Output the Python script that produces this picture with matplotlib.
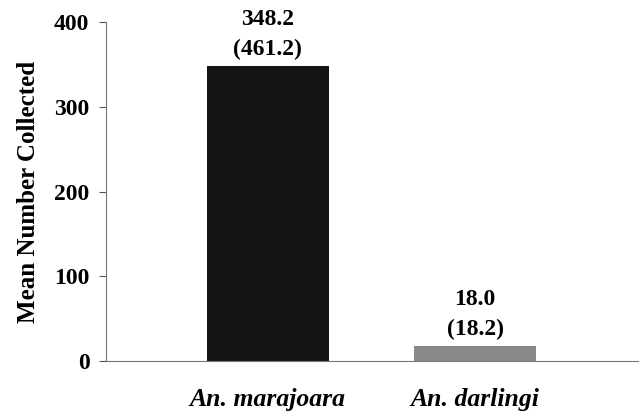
import matplotlib.pyplot as plt
import numpy as np

species = ["An. marajoara", "An. darlingi"]
means = [348.2, 18.0]
sds = [461.2, 18.2]
bar_colors = ["#141414", "#8a8a8a"]
yticks = [0, 100, 200, 300, 400]

plt.rcParams["font.family"] = ["Liberation Serif", "DejaVu Serif"]
plt.rcParams["font.weight"] = "bold"

fig = plt.figure(figsize=(6.39, 4.17), dpi=100)
ax = fig.add_axes([0.166, 0.134, 0.834, 0.813])

x = np.arange(len(species))
ax.bar(x, means, width=0.59, color=bar_colors)

for xi, m, s in zip(x, means, sds):
    ax.annotate(f"{m:.1f}\n({s:.1f})", (xi, m), xytext=(0, 4),
                textcoords="offset points", ha="center", va="bottom",
                fontsize=17, fontweight="bold", linespacing=1.55)

ax.set_xlim(-0.78, 1.79)
ax.set_ylim(0, 400)
ax.set_yticks(yticks)
ax.set_yticklabels([str(t) for t in yticks], fontsize=17, fontweight="bold")
ax.set_xticks(x)
ax.set_xticklabels(species, fontsize=18.5, fontweight="bold", style="italic")
ax.tick_params(axis="x", length=0, pad=19)
ax.tick_params(axis="y", direction="out", length=5, color="#555555", pad=7)
ax.set_ylabel("Mean Number Collected", fontsize=18, fontweight="bold", labelpad=10)

ax.spines["right"].set_visible(False)
ax.spines["top"].set_visible(False)
ax.spines["left"].set_color("#777777")
ax.spines["bottom"].set_color("#777777")

fig.savefig("out.png", dpi=100)
